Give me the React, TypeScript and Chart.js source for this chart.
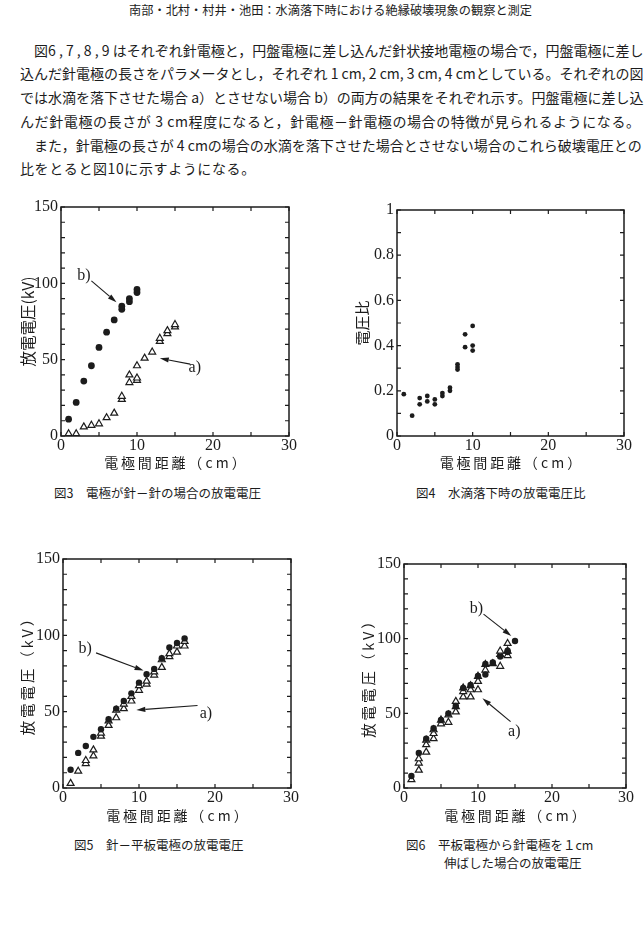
import React, { useEffect, useRef } from 'react';
import { Chart, registerables } from 'chart.js';

Chart.register(...registerables);

// ---------- data ----------
// shared tick labels
const DIST_TICK_LABELS = [0, 10, 20, 30];
const KV_TICK_LABELS = [0, 50, 100, 150];
const RATIO_TICK_LABELS = [0, 0.2, 0.4, 0.6, 0.8, 1];

// 図3 針-針
const fig3DistB = [1, 2, 3, 4, 5, 6, 7, 8, 8, 9, 9, 10, 10];
const fig3VoltB = [11, 22, 36, 46, 58, 68, 76, 83, 85, 88, 90, 94, 96];
const fig3DistA = [1, 2, 3, 4, 5, 6, 7, 8, 8, 9, 9, 10, 10, 10, 11, 12, 13, 13, 14, 14, 15, 15];
const fig3VoltA = [1.5, 1.5, 6, 7, 8, 12, 15, 24, 26, 35, 40, 36.5, 38, 46, 51, 55, 62, 64, 67, 69, 71.5, 73];

// 図4 放電電圧比
const fig4Dist = [0.9, 2, 3, 3, 4, 4, 5, 5, 6, 6, 7, 7, 8, 8, 8, 9, 9, 10, 10, 10];
const fig4Ratio = [0.185, 0.09, 0.168, 0.14, 0.177, 0.153, 0.162, 0.14, 0.19, 0.177, 0.214, 0.2, 0.317, 0.305, 0.294, 0.45, 0.393, 0.487, 0.4, 0.378];

// 図5 針-平板
const fig5DistB = [1, 2, 3, 4, 5, 6, 7, 8, 9, 10, 11, 12, 13, 14, 15, 16];
const fig5VoltB = [12, 23, 27.5, 33.5, 38.5, 45, 52, 57, 62, 69, 74.5, 78, 85, 92, 95, 98];
const fig5DistA = [1, 2, 3, 3, 4, 4, 5, 5, 6, 6, 7, 7, 8, 8, 9, 9, 10, 10, 11, 11, 12, 12, 13, 13, 14, 14, 15, 15, 16, 16];
const fig5VoltA = [3, 11, 16, 18, 21, 25, 34, 36, 41, 44, 46, 51, 52, 55, 57, 60, 64, 67, 68, 70, 74, 76, 79, 84, 86, 88, 89, 93, 93, 96];

// 図6 針電極を1cm伸ばした場合
const fig6DistB = [1, 2, 3, 4, 5, 6, 7, 8, 9, 10, 11, 11, 12, 13, 14, 14, 15];
const fig6VoltB = [8, 23.5, 33, 40, 45.5, 50, 55, 67, 69, 75, 76, 83, 84, 88, 91, 92, 98.4];
const fig6DistA = [1, 2, 2, 2, 3, 3, 3, 4, 4, 4, 5, 5, 6, 6, 7, 7, 7, 8, 8, 8, 9, 9, 9, 10, 10, 10, 11, 11, 12, 13, 13, 13, 14, 14, 14];
const fig6VoltA = [5.6, 12, 16.7, 19.6, 24, 29, 32, 33, 36.5, 39, 43, 45.5, 44, 49, 51, 54.5, 58, 61, 64.6, 67, 61, 65.8, 68.5, 65.8, 71.4, 74.8, 79, 82.7, 83.3, 81.5, 89.4, 91.7, 88.7, 91.7, 96.8];

// annotations (data units): label position, arrow start, arrow tip
const fig3Notes = [
  { text: 'b)', at: [3.0, 105], from: [4.0, 101.6], to: [7.3, 87.6] },
  { text: 'a)', at: [17.6, 44.4], from: [17.0, 47.1], to: [13.0, 50.9] },
];
const fig5Notes = [
  { text: 'b)', at: [2.9, 91.2], from: [4.35, 88.5], to: [10.6, 76.9] },
  { text: 'a)', at: [18.8, 48.9], from: [17.7, 54], to: [9.65, 51.1] },
];
const fig6Notes = [
  { text: 'b)', at: [9.8, 119.8], from: [10.75, 116.4], to: [14.5, 101.8] },
  { text: 'a)', at: [14.9, 37.6], from: [14.4, 44.4], to: [10.6, 60.1] },
];

// ---------- styling ----------
const INK = '#1c1c1c';
const SERIF = "'Liberation Serif', 'DejaVu Serif', serif";
const JP = "'Noto Sans CJK JP', sans-serif";
const TICK_LEN = 4;

const pts = (xs: number[], ys: number[]) => xs.map((x, i) => ({ x, y: ys[i] }));

const isLabel = (list: number[], v: number) => list.some((l) => Math.abs(l - v) < 1e-6);

const paperPlugin = {
  id: 'paper',
  beforeDatasetsDraw(chart: any) {
    const { ctx, chartArea: a, scales } = chart;
    const xs = scales.x;
    const ys = scales.y;
    ctx.save();
    ctx.strokeStyle = INK;
    ctx.lineWidth = 1.2;
    ctx.beginPath();
    for (const t of xs.ticks) {
      const p = xs.getPixelForValue(t.value);
      ctx.moveTo(p, a.bottom);
      ctx.lineTo(p, a.bottom - TICK_LEN);
      ctx.moveTo(p, a.top);
      ctx.lineTo(p, a.top + TICK_LEN);
    }
    for (const t of ys.ticks) {
      const p = ys.getPixelForValue(t.value);
      ctx.moveTo(a.left, p);
      ctx.lineTo(a.left + TICK_LEN, p);
      ctx.moveTo(a.right, p);
      ctx.lineTo(a.right - TICK_LEN, p);
    }
    ctx.stroke();
    ctx.lineWidth = 1.5;
    ctx.strokeRect(a.left, a.top, a.right - a.left, a.bottom - a.top);
    ctx.restore();
  },
  afterDatasetsDraw(chart: any, _args: any, opts: any) {
    const notes = (opts && opts.notes) || [];
    if (!notes.length) return;
    const { ctx, scales } = chart;
    const xs = scales.x;
    const ys = scales.y;
    ctx.save();
    ctx.strokeStyle = INK;
    ctx.fillStyle = INK;
    ctx.lineWidth = 1.1;
    for (const n of notes) {
      const x1 = xs.getPixelForValue(n.from[0]);
      const y1 = ys.getPixelForValue(n.from[1]);
      const x2 = xs.getPixelForValue(n.to[0]);
      const y2 = ys.getPixelForValue(n.to[1]);
      const ang = Math.atan2(y2 - y1, x2 - x1);
      const hl = 9;
      const hw = 2.6;
      const bx = x2 - Math.cos(ang) * hl;
      const by = y2 - Math.sin(ang) * hl;
      ctx.beginPath();
      ctx.moveTo(x1, y1);
      ctx.lineTo(bx, by);
      ctx.stroke();
      ctx.beginPath();
      ctx.moveTo(x2, y2);
      ctx.lineTo(bx + Math.sin(ang) * hw, by - Math.cos(ang) * hw);
      ctx.lineTo(bx - Math.sin(ang) * hw, by + Math.cos(ang) * hw);
      ctx.closePath();
      ctx.fill();
      ctx.font = `16px ${SERIF}`;
      ctx.textAlign = 'center';
      ctx.textBaseline = 'middle';
      ctx.fillText(n.text, xs.getPixelForValue(n.at[0]), ys.getPixelForValue(n.at[1]));
    }
    ctx.restore();
  },
};

type Panel = {
  plot: { L: number; R: number; T: number; B: number };
  yTitleX: number;
  xTitleY: number;
  yMax: number;
  yStep: number;
  yLabels: number[];
  yTitle: string;
  yTitleSize: number;
  datasets: any[];
  notes: any[];
};

const X_TITLE = '電\u2009極\u2009間\u2009距\u2009離\u2009（ c m ）';

function geometry(p: Panel) {
  const left = Math.round(p.yTitleX - 12);
  const top = p.plot.T - 17;
  const right = p.plot.R + 16;
  const bottom = p.xTitleY + 12;
  return { left, top, width: right - left, height: bottom - top };
}

function buildConfig(p: Panel): any {
  const g = geometry(p);
  const ml = p.plot.L - g.left;
  const mt = p.plot.T - g.top;
  const mr = g.left + g.width - p.plot.R;
  const mb = g.top + g.height - p.plot.B;
  const xTitleSize = 14;
  const xPad = (g.top + g.height - p.xTitleY) - (xTitleSize * 1.2) / 2;
  const yPad = (p.yTitleX - g.left) - (p.yTitleSize * 1.2) / 2;
  return {
    type: 'scatter',
    data: { datasets: p.datasets },
    plugins: [paperPlugin],
    options: {
      animation: false,
      responsive: false,
      maintainAspectRatio: false,
      events: [],
      layout: { padding: { left: 0, top: mt, right: mr, bottom: 0 } },
      plugins: {
        legend: { display: false },
        tooltip: { enabled: false },
        paper: { notes: p.notes },
      },
      scales: {
        x: {
          type: 'linear',
          min: 0,
          max: 30,
          grid: { display: false, drawTicks: false },
          border: { display: false },
          ticks: {
            stepSize: 5,
            autoSkip: false,
            maxRotation: 0,
            padding: 0,
            color: INK,
            font: { family: SERIF, size: 16 },
            callback: (v: number) => (isLabel(DIST_TICK_LABELS, v) ? String(v) : ''),
          },
          title: {
            display: true,
            text: X_TITLE,
            color: INK,
            font: { family: JP, size: xTitleSize },
            padding: { top: 0, bottom: Math.max(0, xPad) },
          },
          afterFit: (s: any) => {
            s.height = mb;
          },
        },
        y: {
          type: 'linear',
          min: 0,
          max: p.yMax,
          grid: { display: false, drawTicks: false },
          border: { display: false },
          ticks: {
            stepSize: p.yStep,
            autoSkip: false,
            padding: 3,
            color: INK,
            font: { family: SERIF, size: 16 },
            callback: (v: number) => (isLabel(p.yLabels, v) ? String(Number(v.toFixed(2))) : ''),
          },
          title: {
            display: true,
            text: p.yTitle,
            color: INK,
            font: { family: JP, size: p.yTitleSize },
            padding: { top: Math.max(0, yPad), bottom: 0 },
          },
          afterFit: (s: any) => {
            s.width = ml;
          },
        },
      },
    },
  };
}

const dotSet = (data: any[], r: number) => ({
  data,
  pointStyle: 'circle',
  pointRadius: r,
  backgroundColor: INK,
  borderColor: INK,
  borderWidth: 0,
});
const triSet = (data: any[], r: number) => ({
  data,
  pointStyle: 'triangle',
  pointRadius: r,
  backgroundColor: '#ffffff',
  borderColor: INK,
  borderWidth: 1.2,
});

const panels: Panel[] = [
  {
    plot: { L: 61, R: 289, T: 207, B: 436 },
    yTitleX: 28,
    xTitleY: 463,
    yMax: 150,
    yStep: 10,
    yLabels: KV_TICK_LABELS,
    yTitle: '放電電圧(kV)',
    yTitleSize: 15.5,
    datasets: [dotSet(pts(fig3DistB, fig3VoltB), 3.4), triSet(pts(fig3DistA, fig3VoltA), 4)],
    notes: fig3Notes,
  },
  {
    plot: { L: 397, R: 624, T: 210, B: 436 },
    yTitleX: 362,
    xTitleY: 463,
    yMax: 1,
    yStep: 0.1,
    yLabels: RATIO_TICK_LABELS,
    yTitle: '電圧比',
    yTitleSize: 15,
    datasets: [dotSet(pts(fig4Dist, fig4Ratio), 2.4)],
    notes: [],
  },
  {
    plot: { L: 63, R: 291, T: 559, B: 788 },
    yTitleX: 27,
    xTitleY: 816,
    yMax: 150,
    yStep: 10,
    yLabels: KV_TICK_LABELS,
    yTitle: '放\u2009電\u2009電\u2009圧\u2009（\u2009k\u2009V\u2009）',
    yTitleSize: 14.5,
    datasets: [dotSet(pts(fig5DistB, fig5VoltB), 3.2), triSet(pts(fig5DistA, fig5VoltA), 4)],
    notes: fig5Notes,
  },
  {
    plot: { L: 404, R: 626, T: 564, B: 788 },
    yTitleX: 368,
    xTitleY: 816,
    yMax: 150,
    yStep: 10,
    yLabels: KV_TICK_LABELS,
    yTitle: '放\u2009電\u2009電\u2009圧\u2009（\u2009k\u2009V\u2009）',
    yTitleSize: 14.5,
    datasets: [dotSet(pts(fig6DistB, fig6VoltB), 3.2), triSet(pts(fig6DistA, fig6VoltA), 4)],
    notes: fig6Notes,
  },
];

function ChartPanel({ panel }: { panel: Panel }) {
  const ref = useRef<HTMLCanvasElement>(null);
  const g = geometry(panel);
  useEffect(() => {
    const chart = new Chart(ref.current as HTMLCanvasElement, buildConfig(panel));
    return () => chart.destroy();
  }, [panel]);
  return (
    <canvas
      ref={ref}
      width={g.width}
      height={g.height}
      style={{ position: 'absolute', left: g.left, top: g.top, width: g.width, height: g.height }}
    />
  );
}

// ---------- text ----------
const HEADER = '南部・北村・村井・池田：水滴落下時における絶縁破壊現象の観察と測定';
const bodyLines = [
  { text: '図6 , 7 , 8 , 9 はそれぞれ針電極と，円盤電極に差し込んだ針状接地電極の場合で，円盤電極に差し', y: 50, indent: true, full: true },
  { text: '込んだ針電極の長さをパラメータとし，それぞれ 1 cm, 2 cm, 3 cm, 4 cmとしている。それぞれの図', y: 73, indent: false, full: true },
  { text: 'では水滴を落下させた場合 a）とさせない場合 b）の両方の結果をそれぞれ示す。円盤電極に差し込', y: 97, indent: false, full: true },
  { text: 'んだ針電極の長さが 3 cm程度になると，針電極－針電極の場合の特徴が見られるようになる。', y: 121, indent: false, full: false },
  { text: 'また，針電極の長さが 4 cmの場合の水滴を落下させた場合とさせない場合のこれら破壊電圧との', y: 145, indent: true, full: true },
  { text: '比をとると図10に示すようになる。', y: 168, indent: false, full: false },
];
const captions = [
  { text: '図3　電極が針－針の場合の放電電圧', x: 54, y: 493 },
  { text: '図4　水滴落下時の放電電圧比', x: 416, y: 493 },
  { text: '図5　針－平板電極の放電電圧', x: 74, y: 845 },
  { text: '図6　平板電極から針電極を１cm', x: 406, y: 845 },
  { text: '伸ばした場合の放電電圧', x: 444, y: 863 },
];

export default function App() {
  return (
    <div
      lang="ja"
      style={{
        position: 'absolute',
        left: 0,
        top: 0,
        width: 644,
        height: 929,
        background: '#ffffff',
        color: INK,
        fontFamily: JP,
        overflow: 'hidden',
      }}
    >
      <div style={{ position: 'absolute', left: 129, top: 2, width: 403, fontSize: 12.2, lineHeight: '16px', whiteSpace: 'nowrap', textAlign: 'justify', textAlignLast: 'justify' as any }}>
        {HEADER}
      </div>
      {bodyLines.map((l, i) => {
        const left = l.indent ? 34 : 20;
        return (
          <div
            key={i}
            style={{
              position: 'absolute',
              left,
              top: l.y - 10,
              width: 626 - left,
              fontSize: 14,
              lineHeight: '20px',
              whiteSpace: 'nowrap',
              letterSpacing: l.full ? 0 : 0.6,
              textAlign: 'justify',
              textAlignLast: (l.full ? 'justify' : 'left') as any,
            }}
          >
            {l.text}
          </div>
        );
      })}
      {panels.map((p, i) => (
        <ChartPanel key={i} panel={p} />
      ))}
      {captions.map((c, i) => (
        <div
          key={i}
          style={{ position: 'absolute', left: c.x, top: c.y - 9, fontSize: 12.5, lineHeight: '18px', whiteSpace: 'nowrap' }}
        >
          {c.text}
        </div>
      ))}
    </div>
  );
}
